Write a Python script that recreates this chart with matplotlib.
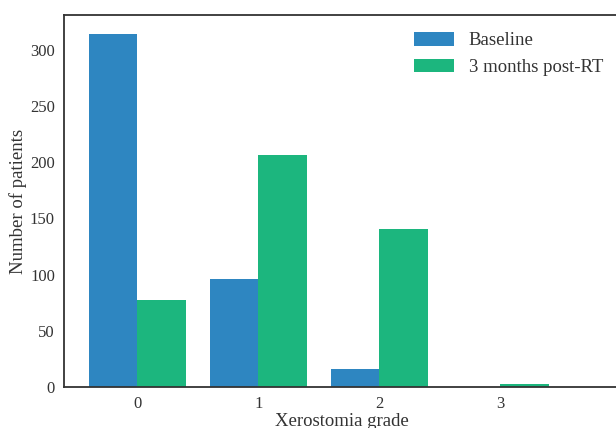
import numpy as np
import matplotlib
matplotlib.use("Agg")
import matplotlib.pyplot as plt

grades = ["0", "1", "2", "3"]
baseline = [314, 96, 16, 0]
post_rt = [77, 206, 141, 3]
series_labels = ["Baseline", "3 months post-RT"]

plt.rcParams["font.family"] = ["Liberation Serif", "DejaVu Serif"]
text_color = "#333333"

fig = plt.figure(figsize=(6.16, 4.28), dpi=100)
ax = fig.add_axes([64 / 616, 1 - 387 / 428, (620 - 64) / 616, (387 - 15) / 428])

x = np.arange(len(grades))
w = 0.4
ax.bar(x - w / 2, baseline, width=w, color="#2e86c1", label=series_labels[0])
ax.bar(x + w / 2, post_rt, width=w, color="#1cb67e", label=series_labels[1])

ax.set_xlim(-0.607, -0.607 + (620 - 64) / 121)
ax.set_ylim(0, 331)
ax.set_xticks(x)
ax.set_xticklabels(grades)
ax.set_yticks([0, 50, 100, 150, 200, 250, 300])

ax.tick_params(axis="both", length=0, labelsize=12, colors=text_color, pad=6.5)
ax.set_xlabel("Xerostomia grade", fontsize=13.5, color=text_color)
ax.set_ylabel("Number of patients", fontsize=13.5, color=text_color, va="center")
ax.xaxis.set_label_coords(0.5, -(413 - 387) / 372)
ax.yaxis.set_label_coords((18 - 64) / 556, 0.5)

for s in ax.spines.values():
    s.set_color("#333333")
    s.set_linewidth(1.3)

ax.legend(loc="upper right", bbox_to_anchor=(1.0, 1.0),
          frameon=False, fontsize=13.5, handlelength=2.1, handleheight=0.75,
          handletextpad=0.8, labelcolor=text_color, labelspacing=0.5)

fig.savefig("out.png", dpi=100)
